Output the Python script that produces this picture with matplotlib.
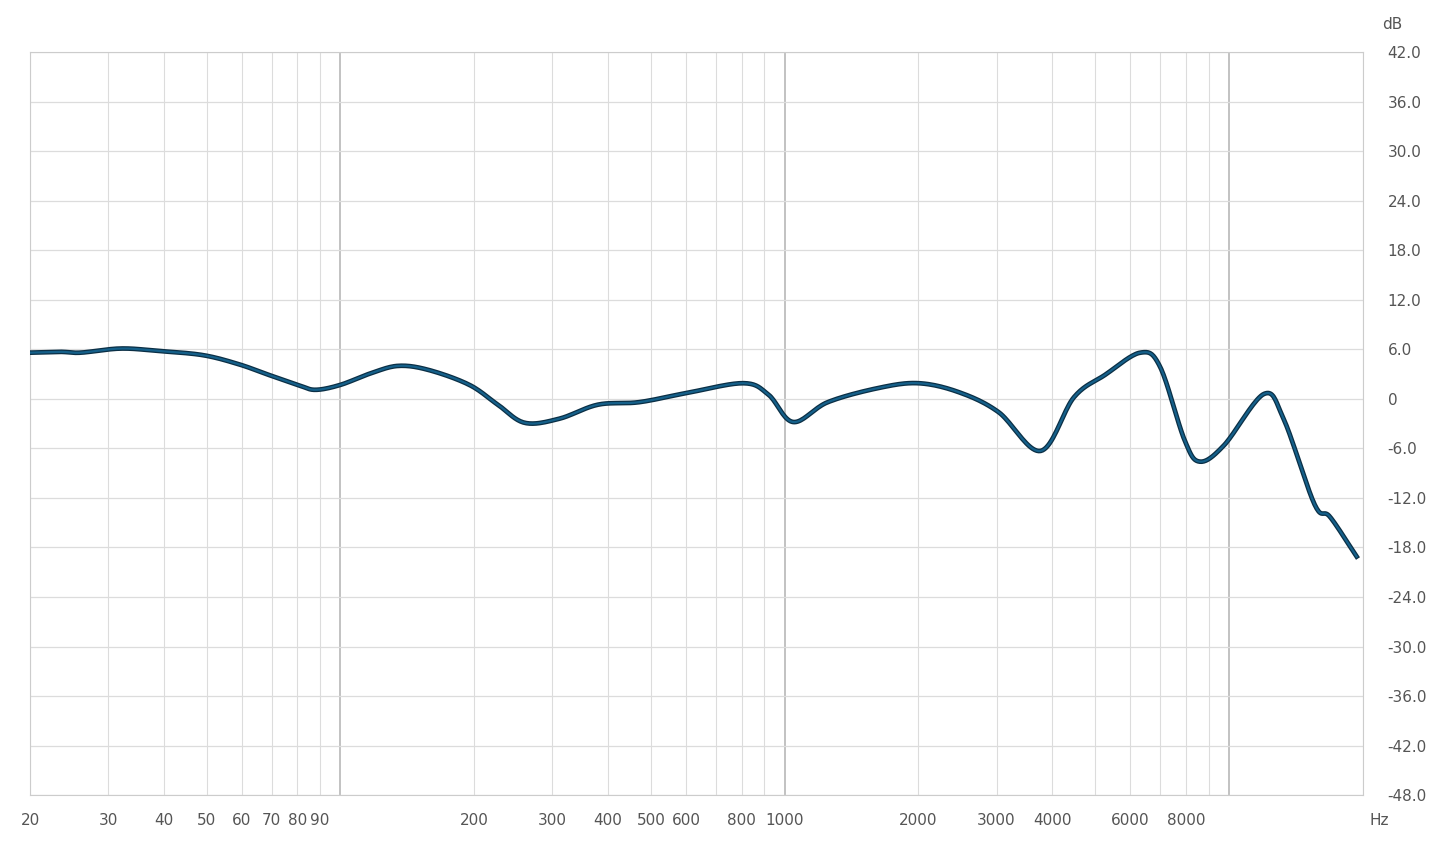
import numpy as np
import matplotlib.pyplot as plt
from matplotlib.ticker import FixedLocator, NullFormatter

# frequency response
freq = [20, 23.4, 26, 32, 39, 49, 59, 69, 81, 88, 100, 117, 135, 158, 195, 226, 260,
        311, 380, 470, 600, 808, 920, 1045, 1250, 1620, 2000, 2470, 3030, 3770, 4480,
        5260, 6320, 7000, 7950, 8600, 9760, 12000, 13300, 15600, 16900, 19400]
db = [5.6, 5.7, 5.6, 6.1, 5.8, 5.3, 4.2, 2.9, 1.6, 1.1, 1.7, 3.1, 4.0, 3.5, 1.7, -0.7, -2.9,
      -2.4, -0.7, -0.4, 0.7, 1.9, 0.5, -2.8, -0.4, 1.3, 1.9, 0.8, -1.6, -6.3, 0.2,
      2.9, 5.6, 3.9, -5.0, -7.6, -5.6, 0.6, -2.5, -12.8, -14.3, -19.1]

x_labels = [20, 30, 40, 50, 60, 70, 80, 90, 200, 300, 400, 500, 600, 800, 1000,
            2000, 3000, 4000, 6000, 8000]
y_ticks = list(range(-48, 43, 6))


def smooth_curve(xs, ys, n=20):
    # catmull-rom through the points, in log-frequency space, only to draw a smooth line
    lx = np.log10(xs)
    ys = np.asarray(ys, float)
    px = np.concatenate([[2 * lx[0] - lx[1]], lx, [2 * lx[-1] - lx[-2]]])
    py = np.concatenate([[2 * ys[0] - ys[1]], ys, [2 * ys[-1] - ys[-2]]])
    t = np.linspace(0, 1, n, endpoint=False)
    outx, outy = [], []
    for i in range(1, len(px) - 2):
        for p, out in ((px, outx), (py, outy)):
            p0, p1, p2, p3 = p[i - 1], p[i], p[i + 1], p[i + 2]
            out.extend(0.5 * (2 * p1 + (p2 - p0) * t + (2 * p0 - 5 * p1 + 4 * p2 - p3) * t ** 2
                              + (3 * p1 - p0 - 3 * p2 + p3) * t ** 3))
    outx.append(lx[-1])
    outy.append(ys[-1])
    return 10 ** np.array(outx), np.array(outy)


fig = plt.figure(figsize=(14.5, 8.55), dpi=100)
ax = fig.add_axes([0.0207, 0.070, 0.919, 0.869])

sx, sy = smooth_curve(freq, db)
ax.plot(sx, sy, color='#0b2f45', lw=3.4, solid_joinstyle='round', zorder=3)
ax.plot(sx, sy, color='#15608a', lw=1.6, solid_joinstyle='round', zorder=4)

ax.set_xscale('log')
ax.set_xlim(20, 20000)
ax.set_ylim(-48, 42)

grid_f = [m * 10 ** e for e in (1, 2, 3, 4) for m in range(1, 10) if 20 <= m * 10 ** e <= 20000]
ax.xaxis.set_major_locator(FixedLocator(grid_f))
ax.xaxis.set_minor_locator(FixedLocator([]))
ax.xaxis.set_major_formatter(NullFormatter())
for f in grid_f:
    heavy = f in (100, 1000, 10000)
    ax.axvline(f, color='#bdbdbd' if heavy else '#dcdcdc', lw=1.3 if heavy else 0.8, zorder=1)
for f in x_labels:
    ax.text(f, -50.2, str(f), ha='center', va='top', fontsize=11, color='#555555')
ax.text(20000 * 1.09, -50.2, 'Hz', ha='center', va='top', fontsize=11, color='#555555')

ax.yaxis.tick_right()
ax.set_yticks(y_ticks)
ax.set_yticklabels(['0' if v == 0 else f'{v:.1f}' for v in y_ticks], fontsize=11, color='#555555')
for v in y_ticks:
    ax.axhline(v, color='#dcdcdc', lw=0.9, zorder=1)
ax.tick_params(axis='both', length=0, which='both', pad=18)
ax.text(1.022, 1.027, 'dB', transform=ax.transAxes, ha='center', va='bottom', fontsize=11, color='#555555')

for s in ax.spines.values():
    s.set_color('#cccccc')

fig.savefig('out.png', dpi=100)
